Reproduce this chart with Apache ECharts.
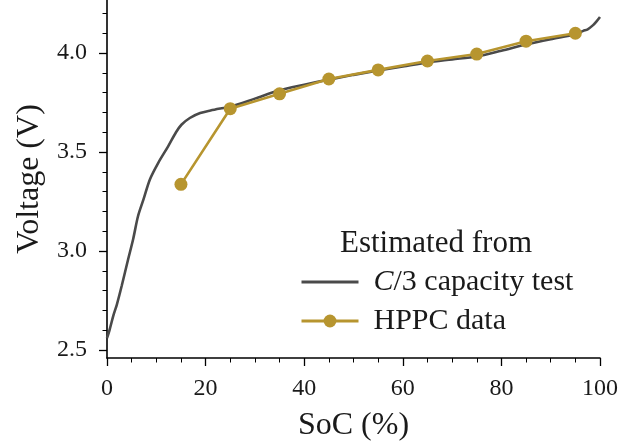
<!DOCTYPE html>
<html>
<head>
<meta charset="utf-8">
<script src="https://cdn.jsdelivr.net/npm/echarts@6/dist/echarts.min.js"></script>
<style>html,body{margin:0;padding:0;background:#fff}#c{width:639px;height:447px}</style>
</head>
<body>
<div id="c"></div>
<script>
// C/3 capacity test curve: [SoC %, Voltage V]
const c3SoC = [0, 0.5, 1.3, 2, 3, 4.3, 5.3, 6.3, 7.4, 8.7, 10.4, 12.4, 14, 15.1, 16.8, 18.9, 21, 23, 25, 30, 35, 40, 45, 50, 55, 60, 65, 70, 75, 80, 85, 90, 95, 96.6, 97.5, 98.6, 99.3, 100];
const c3Volt = [2.56, 2.60, 2.675, 2.73, 2.826, 2.96, 3.06, 3.177, 3.261, 3.362, 3.446, 3.529, 3.60, 3.638, 3.672, 3.697, 3.71, 3.72, 3.729, 3.77, 3.812, 3.84, 3.866, 3.89, 3.912, 3.932, 3.953, 3.968, 3.983, 4.012, 4.043, 4.07, 4.095, 4.112, 4.12, 4.141, 4.16, 4.182];
// HPPC data points
const hppcSoC = [15, 25, 35, 45, 55, 65, 75, 85, 95];
const hppcVolt = [3.337, 3.719, 3.794, 3.869, 3.915, 3.960, 3.995, 4.060, 4.100];
// axis ticks
const xTicks = [0, 20, 40, 60, 80, 100];
const yTicks = [2.5, 3.0, 3.5, 4.0];
const yMinorTicks = [2.6, 2.7, 2.8, 2.9, 3.1, 3.2, 3.3, 3.4, 3.6, 3.7, 3.8, 3.9, 4.1, 4.2];
const seriesNames = ['C/3 capacity test', 'HPPC data'];
const legendTitle = 'Estimated from';
const xName = 'SoC (%)';
const yName = 'Voltage (V)';

const FONT = 'Liberation Serif';
const TXT = '#1a1a1a';
const C3_COLOR = '#4a4a4a';
const HPPC_COLOR = '#b7952f';
const chart = echarts.init(document.getElementById('c'), null, {renderer: 'canvas'});
chart.setOption({
  backgroundColor: '#fff',
  animation: false,
  title: {
    text: legendTitle, left: 431, top: 223, textAlign: 'center',
    textStyle: {fontFamily: FONT, fontSize: 31, fontWeight: 'normal', color: TXT}
  },
  legend: {
    orient: 'vertical', left: 295, top: 262,
    itemWidth: 57, itemHeight: 16, itemGap: 9,
    lineStyle: {width: 3},
    data: [
      {name: seriesNames[0], icon: 'path://M0,0 L57,0 L57,3.2 L0,3.2 Z'},
      {name: seriesNames[1]}
    ],
    formatter: function (n) { return n === seriesNames[0] ? '{i|C}/3 capacity test' : n; },
    textStyle: {
      fontFamily: FONT, fontSize: 30, color: TXT, lineHeight: 30, padding: [0, 0, 0, 10],
      rich: {i: {fontFamily: FONT, fontSize: 30, fontStyle: 'italic', color: TXT}}
    }
  },
  grid: {left: 107, right: 39, top: 0, bottom: 89, containLabel: false},
  xAxis: {
    type: 'value', min: xTicks[0], max: xTicks[xTicks.length - 1], interval: 20,
    name: xName, nameLocation: 'middle', nameGap: 52,
    nameTextStyle: {fontFamily: FONT, fontSize: 32, color: TXT},
    axisLine: {show: true, lineStyle: {color: '#000', width: 1.6}},
    axisTick: {show: true, length: 8, lineStyle: {color: '#000', width: 1.3}},
    minorTick: {show: true, splitNumber: 4, length: 4.5, lineStyle: {color: '#000', width: 1}},
    splitLine: {show: false},
    axisLabel: {fontFamily: FONT, fontSize: 24, color: TXT, margin: 19}
  },
  yAxis: [{
    type: 'value', min: 2.46, max: 4.268,
    name: yName, nameLocation: 'middle', nameGap: 61, nameRotate: 90,
    nameTextStyle: {fontFamily: FONT, fontSize: 32, color: TXT},
    axisLine: {show: true, lineStyle: {color: '#000', width: 1.6}},
    axisTick: {show: true, length: 8, customValues: yTicks, lineStyle: {color: '#000', width: 1.3}},
    axisLabel: {fontFamily: FONT, fontSize: 24, color: TXT, margin: 20, customValues: yTicks,
      formatter: function (v) { return v.toFixed(1); }},
    splitLine: {show: false}
  }, {
    type: 'value', min: 2.46, max: 4.268, position: 'left',
    axisLine: {show: false},
    axisTick: {show: true, length: 4.5, customValues: yMinorTicks, lineStyle: {color: '#000', width: 1}},
    axisLabel: {show: false},
    splitLine: {show: false}
  }],
  series: [{
    name: seriesNames[0], type: 'line', yAxisIndex: 0,
    data: c3SoC.map((s, i) => [s, c3Volt[i]]),
    showSymbol: false, symbol: 'none', smooth: 0.3,
    lineStyle: {color: C3_COLOR, width: 2.6},
    itemStyle: {color: C3_COLOR}, z: 2
  }, {
    name: seriesNames[1], type: 'line', yAxisIndex: 0,
    data: hppcSoC.map((s, i) => [s, hppcVolt[i]]),
    symbol: 'circle', symbolSize: 13, showSymbol: true,
    lineStyle: {color: HPPC_COLOR, width: 2.6},
    itemStyle: {color: HPPC_COLOR}, z: 3
  }]
});
</script>
</body>
</html>
